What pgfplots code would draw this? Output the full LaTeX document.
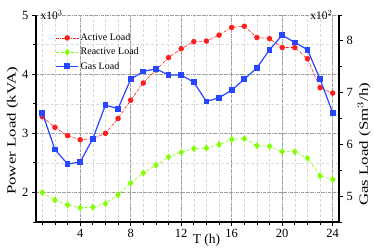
\documentclass[border=0pt]{standalone}
\usepackage{fontspec}
\setmainfont{Liberation Serif}
\usepackage{pgfplots}
\usepackage{pgfplotstable}
\pgfplotsset{compat=1.18}
\definecolor{cred}{RGB}{255,30,30}
\definecolor{cgreen}{RGB}{128,255,0}
\definecolor{cblue}{RGB}{40,70,255}

\pgfplotstableread{
x active reactive gas
1 3.28 2.00 6.61
2 3.10 1.87 5.90
3 2.96 1.79 5.62
4 2.89 1.74 5.66
5 2.91 1.75 6.11
6 3.00 1.81 6.76
7 3.25 1.96 6.69
8 3.56 2.16 7.26
9 3.85 2.33 7.41
10 4.07 2.46 7.46
11 4.28 2.60 7.34
12 4.43 2.68 7.34
13 4.55 2.74 7.20
14 4.56 2.75 6.83
15 4.66 2.81 6.90
16 4.79 2.90 7.05
17 4.81 2.91 7.26
18 4.62 2.79 7.48
19 4.60 2.78 7.83
20 4.45 2.69 8.11
21 4.45 2.69 7.97
22 4.26 2.58 7.83
23 3.77 2.28 7.26
24 3.68 2.22 6.61
}\loaddata

\begin{document}
\begin{tikzpicture}
\useasboundingbox (-36pt,-28pt) rectangle (338pt,222pt);
\pgfplotsset{
  common/.style={
    at={(0,0)}, anchor=south west,
    scale only axis, width=303pt, height=207pt,
    xmin=0.5, xmax=24.5,
    clip=false,
    tick align=outside,
    major tick length=4pt, minor tick length=2.5pt,
    every tick/.style={black, line width=0.8pt},
    axis line style={black, line width=1.1pt},
    tick label style={font=\fontsize{12.5}{12.5}\selectfont},
    /pgf/number format/assume math mode=true,
  }
}
\begin{axis}[common,
  ymin=1.5, ymax=5,
  axis x line*=bottom, axis y line*=left,
  xtick={4,8,...,24},
  minor xtick={1,2,...,24},
  ytick={2,3,4,5},
  minor ytick={1.5,2.5,3.5,4.5},
  grid=both,
  major grid style={densely dashdotted, gray!75, line width=0.5pt},
  minor grid style={densely dashed, gray!30, line width=0.4pt},
  xlabel={T (h)},
  xlabel style={at={(axis description cs:0.5625,0)}, anchor=base, yshift=-21pt, font=\fontsize{13.5}{13.5}\selectfont},
  ylabel={Power Load (kVA)},
  ylabel style={at={(ticklabel cs:0.44)}, font=\fontsize{12.5}{12.5}\selectfont, xscale=1.35, yshift=-3pt},
  legend style={draw=none, fill=none, at={(0.055,0.93)}, anchor=north west,
    font=\fontsize{10}{10}\selectfont, row sep=1.8pt, cells={anchor=west}},
  legend image code/.code={%
    \draw[mark repeat=2,mark phase=2,#1] plot coordinates {(0cm,0cm) (0.38cm,0cm) (0.76cm,0cm)};},
]
\addplot[cred, densely dashdotted, line width=0.6pt, mark=*, mark size=2.4pt,
  mark options={solid, fill=cred}] table[x=x, y=active] {\loaddata};
\addlegendentry{Active Load}
\addplot[cgreen, densely dashed, line width=0.6pt, mark=diamond*, mark size=3pt,
  mark options={solid, fill=cgreen}] table[x=x, y=reactive] {\loaddata};
\addlegendentry{Reactive Load}
\addlegendimage{cblue, solid, line width=1.2pt, mark=square*, mark size=2.3pt, mark options={fill=cblue}}
\addlegendentry{Gas Load}
\node[anchor=west, font=\fontsize{11.5}{11.5}\selectfont] at ([xshift=1pt]rel axis cs:0,1) {x10$^3$};
\end{axis}
\begin{axis}[common,
  ymin=4.5, ymax=8.5,
  axis x line=none, axis y line*=right,
  ytick={5,6,7,8},
  minor ytick={4.5,5.5,6.5,7.5,8.5},
  ylabel={Gas Load (Sm$^3$/h)},
  ylabel near ticks, yticklabel pos=right,
  ylabel style={at={(ticklabel cs:0.375)}, font=\fontsize{12.5}{12.5}\selectfont, xscale=1.35, yshift=2pt},
]
\addplot[cblue, solid, line width=1.2pt, mark=square*, mark size=2.3pt,
  mark options={fill=cblue}] table[x=x, y=gas] {\loaddata};
\node[anchor=east, font=\fontsize{11.5}{11.5}\selectfont] at ([xshift=-3pt]rel axis cs:1,1) {x10$^2$};
\end{axis}
\end{tikzpicture}
\end{document}
